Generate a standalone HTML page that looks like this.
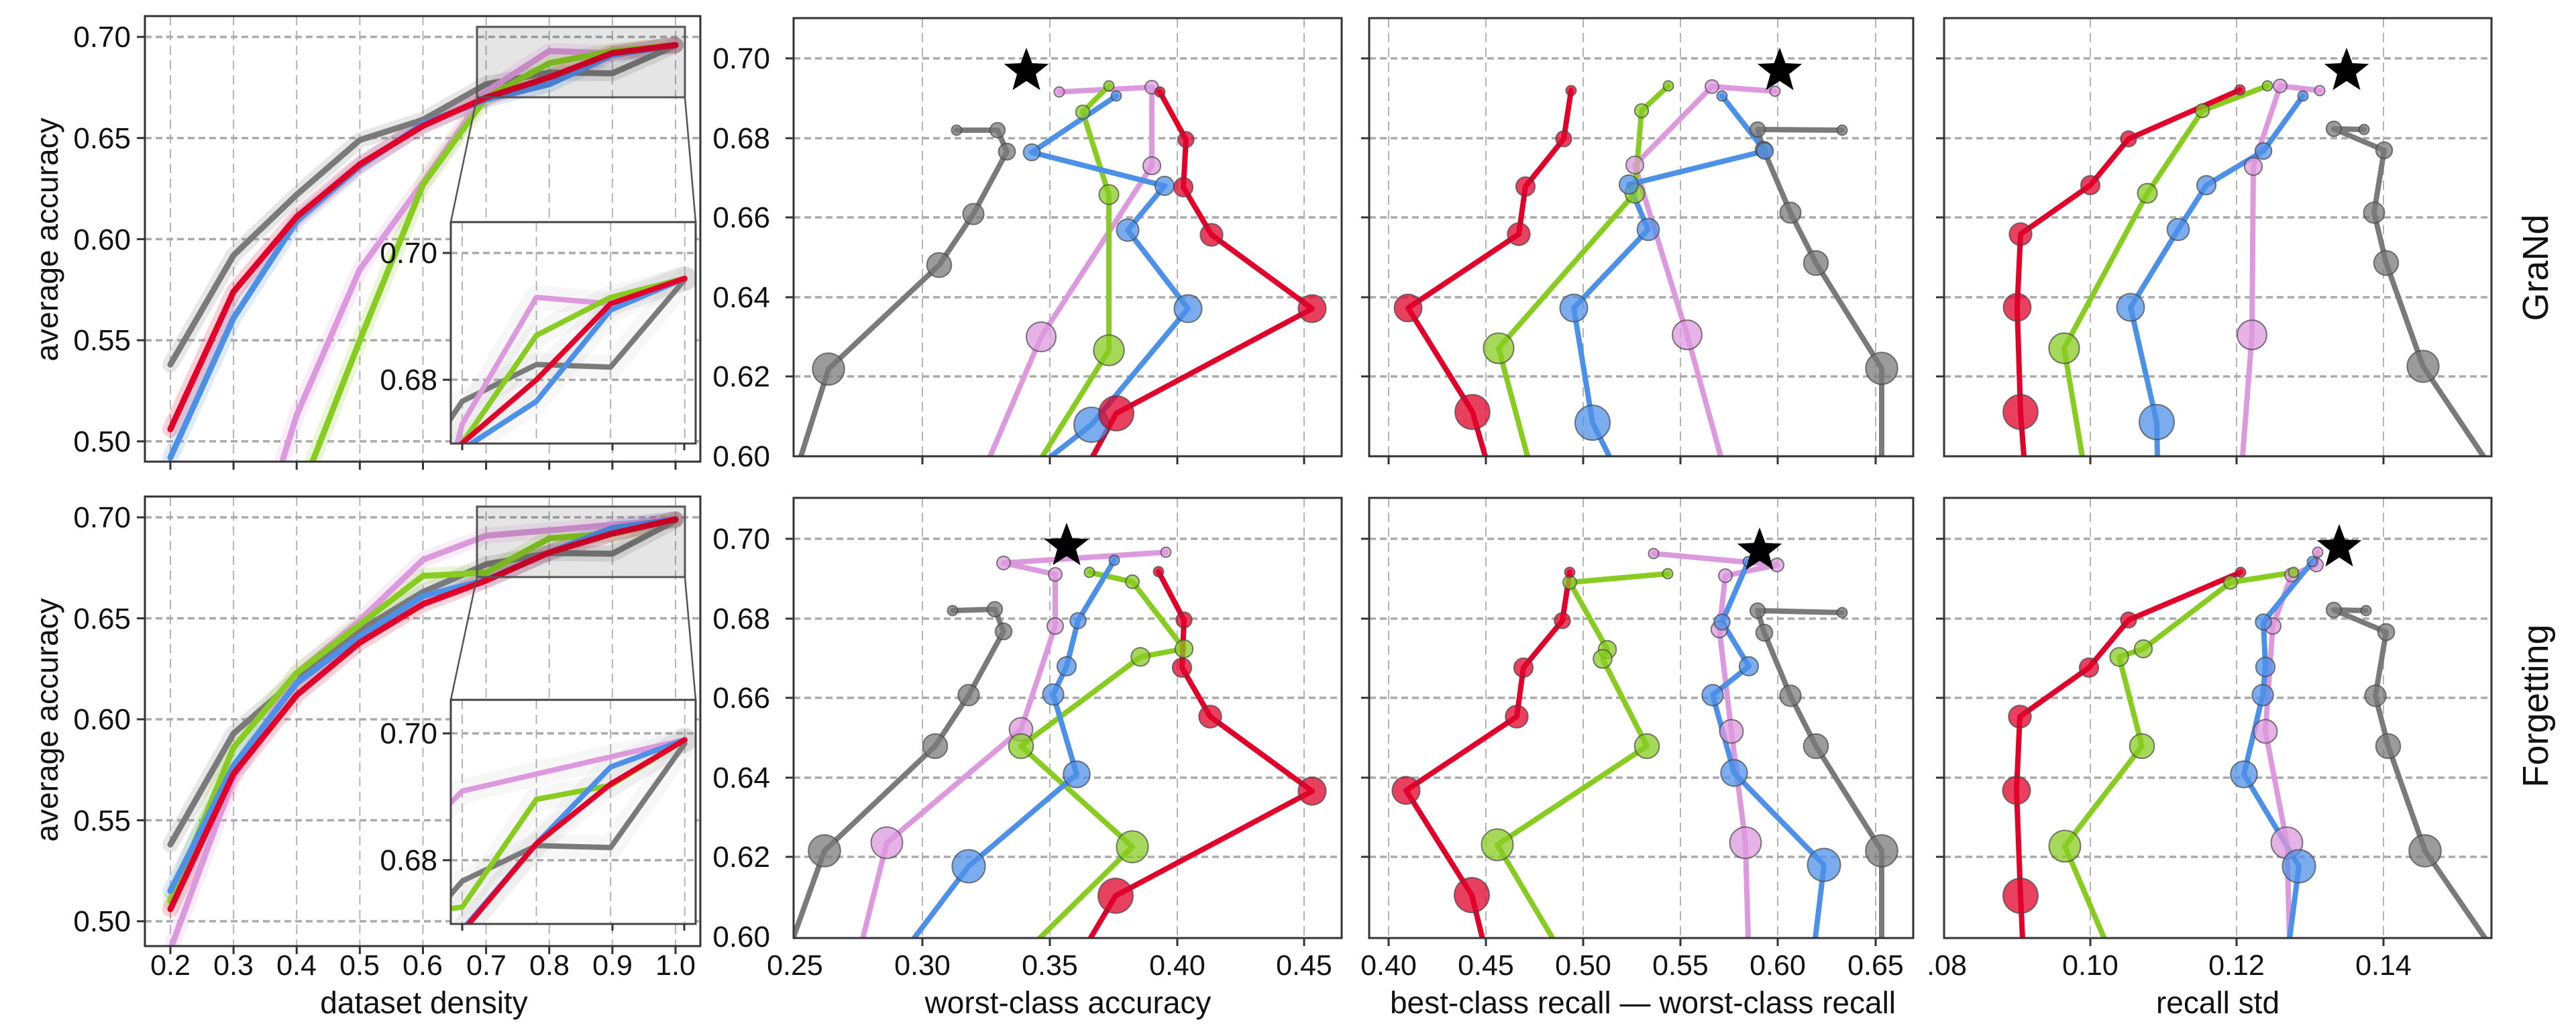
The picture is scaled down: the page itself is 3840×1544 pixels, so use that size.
<!DOCTYPE html>
<html><head><meta charset="utf-8">
<style>
html,body{margin:0;padding:0;background:#fff;}
svg{display:block;}
text{font-family:"Liberation Sans",sans-serif;fill:#111;}
</style></head>
<body>
<svg id="s" width="3840" height="1544" viewBox="0 0 3840 1544" xmlns="http://www.w3.org/2000/svg">
<defs>
<clipPath id="cA0"><rect x="216" y="24" width="828" height="664"/></clipPath>
<clipPath id="cA1"><rect x="216" y="740" width="828" height="670"/></clipPath>
<clipPath id="cI0"><rect x="672" y="331" width="365" height="330"/></clipPath>
<clipPath id="cI1"><rect x="672" y="1043" width="365" height="334"/></clipPath>
<clipPath id="cB0"><rect x="1183" y="27" width="817" height="653"/></clipPath>
<clipPath id="cB1"><rect x="1183" y="742" width="817" height="656"/></clipPath>
<clipPath id="cC0"><rect x="2041" y="27" width="811" height="653"/></clipPath>
<clipPath id="cC1"><rect x="2041" y="742" width="811" height="656"/></clipPath>
<clipPath id="cD0"><rect x="2898" y="27" width="816" height="653"/></clipPath>
<clipPath id="cD1"><rect x="2898" y="742" width="816" height="656"/></clipPath>
</defs>
<g id="g"></g>
<g font-size="44" text-anchor="end">
<text x="195" y="70">0.70</text><text x="195" y="221">0.65</text><text x="195" y="372">0.60</text><text x="195" y="522">0.55</text><text x="195" y="673">0.50</text>
<text x="195" y="786">0.70</text><text x="195" y="937">0.65</text><text x="195" y="1087">0.60</text><text x="195" y="1238">0.55</text><text x="195" y="1388">0.50</text>
<text x="1148" y="102">0.70</text><text x="1148" y="221">0.68</text><text x="1148" y="339">0.66</text><text x="1148" y="458">0.64</text><text x="1148" y="576">0.62</text><text x="1148" y="695">0.60</text>
<text x="1148" y="818">0.70</text><text x="1148" y="937">0.68</text><text x="1148" y="1055">0.66</text><text x="1148" y="1174">0.64</text><text x="1148" y="1292">0.62</text><text x="1148" y="1411">0.60</text>
</g>
<g font-size="44" text-anchor="end">
<text x="652" y="392">0.70</text><text x="652" y="581">0.68</text>
<text x="652" y="1108">0.70</text><text x="652" y="1297">0.68</text>
</g>
<g font-size="43" text-anchor="middle">
<text x="254" y="1453">0.2</text><text x="348" y="1453">0.3</text><text x="442" y="1453">0.4</text><text x="536" y="1453">0.5</text><text x="630" y="1453">0.6</text><text x="725" y="1453">0.7</text><text x="819" y="1453">0.8</text><text x="913" y="1453">0.9</text><text x="1007" y="1453">1.0</text>
<text x="1185" y="1453">0.25</text><text x="1375" y="1453">0.30</text><text x="1565" y="1453">0.35</text><text x="1755" y="1453">0.40</text><text x="1944" y="1453">0.45</text>
<text x="2070" y="1453">0.40</text><text x="2215" y="1453">0.45</text><text x="2360" y="1453">0.50</text><text x="2505" y="1453">0.55</text><text x="2650" y="1453">0.60</text><text x="2796" y="1453">0.65</text>
<text x="2902" y="1453">.08</text><text x="3116" y="1453">0.10</text><text x="3334" y="1453">0.12</text><text x="3553" y="1453">0.14</text>
</g>
<g font-size="46" text-anchor="middle">
<text x="632" y="1510">dataset density</text>
<text x="1592" y="1510">worst-class accuracy</text>
<text x="2449" y="1510">best-class recall — worst-class recall</text>
<text x="3306" y="1510">recall std</text>
<text transform="translate(86,357) rotate(-90)">average accuracy</text>
<text transform="translate(86,1073) rotate(-90)">average accuracy</text>
</g>
<g font-size="54" text-anchor="middle">
<text transform="translate(3798,399) rotate(-90)">GraNd</text>
<text transform="translate(3798,1052) rotate(-90)">Forgetting</text>
</g>
</svg>
<script>
var C={gray:'#7a7a7a',pink:'#dd99dd',green:'#88cc22',blue:'#4d90e8',red:'#e0002a'};
var h='';
function line(x1,y1,x2,y2,st){h+='<line x1="'+x1+'" y1="'+y1+'" x2="'+x2+'" y2="'+y2+'" '+st+'/>';}
var HG='stroke="#aaa" stroke-width="3.5" stroke-dasharray="10,6"';
var VG='stroke="#b4b4b4" stroke-width="2" stroke-dasharray="14,8"';
var TK='stroke="#333" stroke-width="3"';
function grid(f,xs,ys){
  xs.forEach(function(x){line(x,f[1],x,f[3],VG);line(x,f[3],x,f[3]+12,TK);});
  ys.forEach(function(y){line(f[0],y,f[2],y,HG);line(f[0]-12,y,f[0],y,TK);});
}
function frame(f){h+='<rect x="'+f[0]+'" y="'+f[1]+'" width="'+(f[2]-f[0])+'" height="'+(f[3]-f[1])+'" fill="none" stroke="#333" stroke-width="3"/>';}
function pl(pts,col,w,op,clip){
  h+='<polyline clip-path="url(#'+clip+')" points="'+pts.map(function(p){return p[0].toFixed(1)+','+p[1].toFixed(1)}).join(' ')+'" fill="none" stroke="'+col+'" stroke-width="'+w+'" stroke-opacity="'+op+'" stroke-linejoin="round" stroke-linecap="round"/>';
}
var dens=[0.2,0.3,0.4,0.5,0.6,0.7,0.8,0.9,1.0];
var Adata=[
 {gray:[.538,.592,.622,.649,.659,.6766,.6824,.682,.6958],pink:[.35,.413,.513,.585,.628,.673,.693,.692,.696],green:[.40,.45,.47,.550,.627,.670,.687,.693,.696],blue:[.492,.561,.609,.636,.657,.669,.6766,.691,.696],red:[.506,.574,.611,.637,.656,.670,.680,.692,.696]},
 {gray:[.538,.593,.620,.644,.663,.6767,.6823,.682,.6984],pink:[.486,.571,.623,.649,.679,.6909,.6936,.6963,.699],green:[.510,.586,.623,.647,.671,.6726,.6896,.6918,.699],blue:[.515,.577,.618,.641,.661,.669,.6826,.6947,.699],red:[.506,.573,.612,.638,.657,.6687,.6826,.692,.699]}
];
var order=['gray','pink','green','blue','red'];
[0,1].forEach(function(r){
  var f=r?[216,740,1044,1410]:[216,24,1044,688];
  var y0=r?771:55, ys=r?150.5:150.7;
  var xs=[];for(var k=0;k<9;k++)xs.push(254+94.125*k);
  var yy=[];for(var k=0;k<5;k++)yy.push(y0+ys*k);
  grid(f,xs,yy);
  var Y=function(v){return y0+(0.70-v)*ys*20;};
  var X=function(x){return 254+(x-0.2)*941.25;};
  order.forEach(function(s){
    var pts=dens.map(function(d,i){return [X(d),Y(Adata[r][s][i])];});
    pl(pts,C[s],24,0.18,r?'cA1':'cA0');
  });
  order.forEach(function(s){
    var pts=dens.map(function(d,i){return [X(d),Y(Adata[r][s][i])];});
    pl(pts,C[s],9,1,r?'cA1':'cA0');
  });
  frame(f);
  var bt=r?755:40, bb=r?860:145, it=r?1043:331, ib=r?1377:661;
  h+='<rect x="711" y="'+bt+'" width="310" height="'+(bb-bt)+'" fill="#000" fill-opacity="0.1" stroke="#555" stroke-width="3"/>';
  line(711,bb,672,it,'stroke="#555" stroke-width="2.5"');
  line(1021,bb,1037,it,'stroke="#555" stroke-width="2.5"');
  h+='<rect x="672" y="'+it+'" width="365" height="'+(ib-it)+'" fill="#fff"/>';
  var iy0=r?1093:377;
  var IY=function(v){return iy0+(0.70-v)*9450;};
  var IX=function(x){return 689+(x-0.7)*1106;};
  line(672,iy0,1037,iy0,HG);line(672,iy0+189,1037,iy0+189,HG);
  [0.7,0.8,0.9,1.0].forEach(function(x){line(IX(x),it,IX(x),ib,VG);});
  var cl=r?'cI1':'cI0';
  order.forEach(function(s){
    var pts=[5,6,7,8].map(function(i){return [IX(dens[i]),IY(Adata[r][s][i])];});
    pts.unshift([IX(0.6),IY(Adata[r][s][4])]);
    pl(pts,'#999',36,0.08,cl);
  });
  order.forEach(function(s){
    var pts=[4,5,6,7,8].map(function(i){return [IX(dens[i]),IY(Adata[r][s][i])];});
    pl(pts,C[s],8,1,cl);
  });
  h+='<rect x="672" y="'+it+'" width="365" height="'+(ib-it)+'" fill="none" stroke="#444" stroke-width="3"/>';
  line(660,iy0,672,iy0,TK);line(660,iy0+189,672,iy0+189,TK);
  line(689,ib,689,ib+10,TK);line(1020,ib,1020,ib+10,TK);line(913,ib,913,ib+10,TK);
});
function star(cx,cy,R){
  var p=[];for(var i=0;i<10;i++){var a=-Math.PI/2+i*Math.PI/5,rr=i%2?R*0.42:R;p.push((cx+rr*Math.cos(a)).toFixed(1)+','+(cy+rr*Math.sin(a)).toFixed(1));}
  h+='<polygon points="'+p.join(' ')+'" fill="#000"/>';
}
var S={
 B0:{gray:[[1426,194],[1487,194],[1501,226],[1451,319],[1400,395],[1235,550],[1194,680]],
     pink:[[1579,137],[1717,130],[1717,247],[1552,502],[1476,680]],
     green:[[1653,128],[1614,167],[1653,290],[1653,522],[1554,680]],
     blue:[[1664,143],[1538,227],[1736,277],[1681,343],[1771,460],[1627,633],[1567,680]],
     red:[[1729,137],[1768,208],[1764,279],[1806,350],[1956,460],[1664,616],[1629,680]],star:[1530,106]},
 C0:{gray:[[2746,194],[2620,193],[2629,223],[2669,317],[2707,392],[2805,549],[2805,680]],
     pink:[[2646,136],[2552,129],[2437,246],[2515,499],[2565,680]],
     green:[[2487,128],[2447,165],[2437,288],[2234,519],[2277,680]],
     blue:[[2567,143],[2631,225],[2428,275],[2457,342],[2346,459],[2374,630],[2399,680]],
     red:[[2342,135],[2331,207],[2274,278],[2264,349],[2099,459],[2195,614],[2214,680]],star:[2653,106]},
 D0:{gray:[[3524,193],[3479,192],[3554,224],[3539,317],[3557,392],[3612,546],[3702,680]],
     pink:[[3458,135],[3399,128],[3359,248],[3357,499],[3343,680]],
     green:[[3380,128],[3283,165],[3201,288],[3077,519],[3104,680]],
     blue:[[3433,143],[3374,225],[3289,276],[3247,342],[3176,458],[3215,629],[3216,680]],
     red:[[3339,134],[3173,207],[3116,276],[3012,349],[3007,458],[3012,614],[3017,680]],star:[3498,106]},
 B1:{gray:[[1420,910],[1483,908],[1496,941],[1444,1036],[1394,1112],[1229,1268],[1182,1399]],
     pink:[[1738,823],[1496,839],[1573,856],[1573,933],[1522,1087],[1322,1256],[1286,1399]],
     blue:[[1661,835],[1607,925],[1590,993],[1570,1035],[1605,1154],[1444,1291],[1362,1399]],
     green:[[1624,853],[1688,867],[1765,967],[1700,979],[1522,1112],[1688,1262],[1549,1399]],
     red:[[1727,852],[1765,924],[1762,995],[1804,1068],[1956,1179],[1663,1335],[1625,1399]],star:[1590,814]},
 C1:{pink:[[2465,825],[2649,842],[2572,858],[2563,938],[2581,1090],[2602,1256],[2606,1399]],
     blue:[[2606,837],[2567,927],[2607,993],[2553,1036],[2585,1152],[2719,1289],[2706,1399]],
     green:[[2486,855],[2340,868],[2396,968],[2389,982],[2455,1112],[2232,1259],[2315,1399]],
     red:[[2340,853],[2329,925],[2271,995],[2261,1068],[2096,1178],[2194,1334],[2210,1399]],
     gray:[[2746,913],[2620,910],[2630,943],[2669,1037],[2707,1112],[2805,1268],[2805,1399]],star:[2623,821]},
 D1:{red:[[3340,853],[3173,924],[3114,995],[3011,1068],[3006,1178],[3012,1335],[3015,1399]],
     green:[[3419,853],[3325,868],[3195,967],[3159,979],[3193,1112],[3078,1261],[3137,1399]],
     pink:[[3455,823],[3453,842],[3416,857],[3388,933],[3377,1090],[3409,1256],[3413,1399]],
     blue:[[3447,837],[3374,927],[3377,994],[3373,1036],[3345,1154],[3427,1291],[3413,1399]],
     gray:[[3527,910],[3479,909],[3557,942],[3541,1037],[3560,1112],[3615,1268],[3705,1399]],star:[3487,816]}
};
var frames={B:[1183,2000,[1375,1565,1755,1944]],C:[2041,2852,[2070,2215,2360,2505,2650,2796]],D:[2898,3714,[3116,3334,3553]]};
['B','C','D'].forEach(function(P){
  [0,1].forEach(function(r){
    var fr=frames[P], off=r?716:0;
    var f=[fr[0],r?742:27,fr[1],r?1398:680];
    grid(f,fr[2],[87,206,324,443,561].map(function(y){return y+off;}));
    var d=S[P+r], cl='c'+P+r;
    order.forEach(function(s){ pl(d[s],C[s],8,1,cl); });
    order.forEach(function(s){
      var pts=d[s];
      for(var i=0;i<pts.length-1;i++){
        var yrel=pts[i][1]-off;
        var rad=i==0?7.5:Math.max(10,Math.min(26,9+(yrel-130)*0.035));
        h+='<circle clip-path="url(#'+cl+')" cx="'+pts[i][0]+'" cy="'+pts[i][1]+'" r="'+rad.toFixed(1)+'" fill="'+C[s]+'" fill-opacity="0.75" stroke="#444" stroke-opacity="0.7" stroke-width="2"/>';
      }
    });
    star(d.star[0],d.star[1],35);
    frame(f);
  });
});
document.getElementById('g').innerHTML=h;
</script>
</body></html>
